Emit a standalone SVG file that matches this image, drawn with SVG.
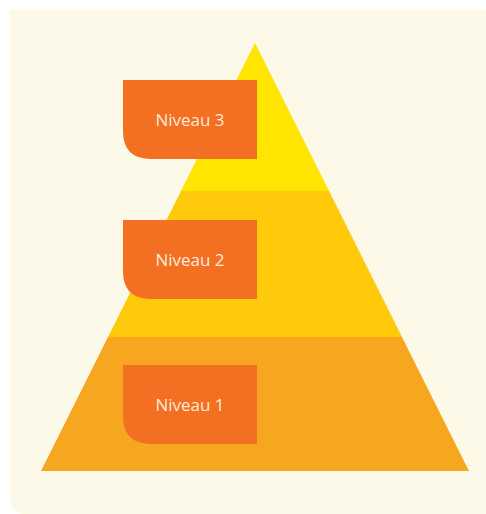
<svg xmlns="http://www.w3.org/2000/svg" width="486" height="514" viewBox="0 0 486 514">
<style>
.lbl{fill:#F37022}
.txt{fill:#FDEBDD;font-family:"Open Sans","Liberation Sans",sans-serif;font-size:17px;text-anchor:middle}
</style>
<rect width="486" height="514" fill="#FFFFFF"/>
<path d="M10 10 H486 V514 H26 Q10 514 10 498 Z" fill="#FDF9E8"/>
<g id="pyramid">
<polygon points="255,43 181,191 329,191" fill="#FFE500"/>
<polygon points="181,191 329,191 402,337 108,337" fill="#FFC90C"/>
<polygon points="108,337 402,337 469,471 41,471" fill="#F7A71F"/>
</g>
<g id="niveau3">
<path class="lbl" d="M123 80 H257 V159 H151 Q123 159 123 131 Z"/>
<text class="txt" x="190" y="126">Niveau 3</text>
</g>
<g id="niveau2">
<path class="lbl" d="M123 220 H257 V299 H151 Q123 299 123 271 Z"/>
<text class="txt" x="190" y="266">Niveau 2</text>
</g>
<g id="niveau1">
<path class="lbl" d="M123 365 H257 V444 H151 Q123 444 123 416 Z"/>
<text class="txt" x="190" y="411">Niveau 1</text>
</g>
<g id="connectors"/>
</svg>
